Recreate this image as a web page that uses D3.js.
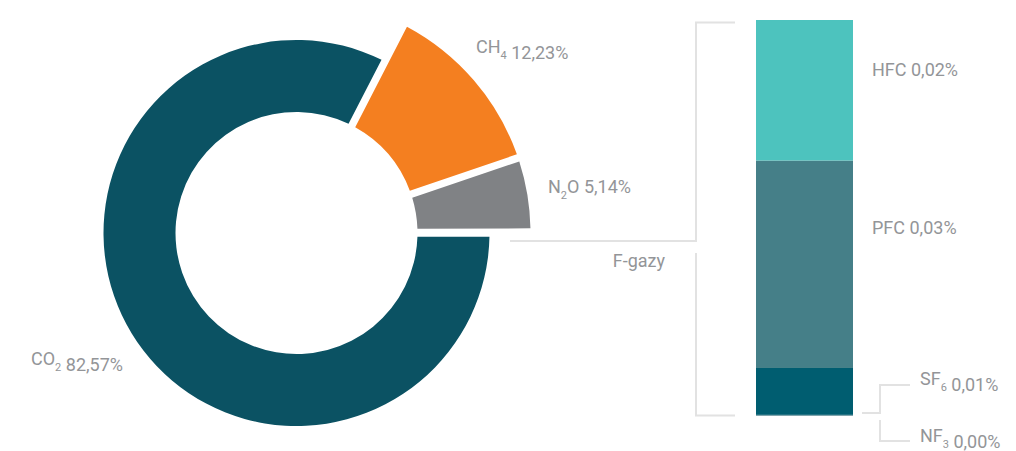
<!DOCTYPE html>
<html>
<head>
<meta charset="utf-8">
<script src="https://cdn.jsdelivr.net/npm/d3@7/dist/d3.min.js"></script>
<style>
  html, body { margin: 0; padding: 0; background: #fff; }
  svg { display: block; font-family: Roboto, "Noto Sans", sans-serif; }
</style>
</head>
<body>
<div id="chart"></div>
<script>
// main gases, share of total emissions (%)
const gases = ["CO2", "CH4", "N2O", "F-gazy"];
const gasValues = [82.57, 12.23, 5.14, 0.06];
const gasLabels = [["CO", "2"], ["CH", "4"], ["N", "2", "O"], null];

// F-gases breakdown (%)
const fgases = ["HFC", "PFC", "SF6", "NF3"];
const fgasValues = [0.021, 0.031, 0.007, 0.0001];
const fgasLabels = [["HFC"], ["PFC"], ["SF", "6"], ["NF", "3"]];

const W = 1016, H = 451;
const textColor = "#939598";
const lineColor = "#e2e2e2";

const pl = d3.formatLocale({ decimal: ",", thousands: " ", grouping: [3], currency: ["", " zł"] });
const pct = v => pl.format(".2f")(v) + "%";

const svg = d3.select("#chart").append("svg")
  .attr("width", W)
  .attr("height", H);

// write "CO" + subscript "2" + rest + value
function label(g, x, y, parts, value, anchor) {
  const t = g.append("text")
    .attr("x", x)
    .attr("y", y)
    .attr("fill", textColor)
    .attr("font-size", 18)
    .attr("text-anchor", anchor || "start");
  t.append("tspan").text(parts[0]);
  if (parts.length > 1) {
    t.append("tspan").attr("font-size", 11).attr("dy", 6).text(parts[1]);
    t.append("tspan").attr("dy", -6).text(parts.length > 2 ? parts[2] : "");
  }
  t.append("tspan").text(" " + pct(value));
  return t;
}

// ---- donut
const cx = 296.5, cy = 233;
const pie = d3.pie()
  .sort(null)
  .startAngle(Math.PI / 2)
  .endAngle(Math.PI / 2 + 2 * Math.PI);
const arcs = pie(gasValues);

const colors = ["#0b5263", "#f47f20", "#808285", "none"];
const arcMain = d3.arc().innerRadius(121).outerRadius(193).padAngle(0.05).padRadius(150);
const arcOut = d3.arc().innerRadius(121).outerRadius(234).padAngle(0.05).padRadius(150);

const donut = svg.append("g").attr("transform", `translate(${cx},${cy})`);
donut.selectAll("path")
  .data(arcs.slice(0, 3))
  .enter()
  .append("path")
  .attr("d", (d, i) => (i === 0 ? arcMain(d) : arcOut(d)))
  .attr("fill", (d, i) => colors[i]);

const pieLabelPos = [[31, 365], [476, 53], [548, 193]];
for (let i = 0; i < 3; i++) {
  label(svg, pieLabelPos[i][0], pieLabelPos[i][1], gasLabels[i], gasValues[i]);
}

// ---- stacked bar for F-gases
const barX = 756, barW = 97;
const y = d3.scaleLinear()
  .domain([0, d3.sum(fgasValues)])
  .range([415.5, 20]);
const fgColors = ["#4dc3be", "#457f88", "#005d70", "#004b5a"];

// stack bottom-up: NF3, SF6, PFC, HFC
const order = [3, 2, 1, 0];
let base = 0;
const segs = order.map(i => {
  const s = { i: i, y0: base, y1: base + fgasValues[i] };
  base += fgasValues[i];
  return s;
});

svg.append("g").selectAll("rect")
  .data(segs)
  .enter()
  .append("rect")
  .attr("x", barX)
  .attr("width", barW)
  .attr("y", d => y(d.y1))
  .attr("height", d => y(d.y0) - y(d.y1))
  .attr("fill", d => fgColors[d.i]);

label(svg, 872, y(segs[3].y1) + 56, fgasLabels[0], fgasValues[0]);
label(svg, 872, y(segs[2].y1) + 73, fgasLabels[1], fgasValues[1]);
label(svg, 920, 385, fgasLabels[2], fgasValues[2]);
label(svg, 920, 442, fgasLabels[3], fgasValues[3]);

// ---- brackets
const lines = svg.append("g")
  .attr("fill", "none")
  .attr("stroke", lineColor)
  .attr("stroke-width", 2);

const brTop = y(d3.sum(fgasValues)) + 2.5, brBottom = y(0);
lines.append("path").attr("d", `M735,${brTop}H696V241H510`);
lines.append("path").attr("d", `M696,253V${brBottom}H735`);
lines.append("path").attr("d", "M862,413H880V385H910");
lines.append("path").attr("d", "M880,420V441H910");

svg.append("text")
  .attr("x", 665)
  .attr("y", 267)
  .attr("text-anchor", "end")
  .attr("fill", textColor)
  .attr("font-size", 18)
  .text("F-gazy");
</script>
</body>
</html>
